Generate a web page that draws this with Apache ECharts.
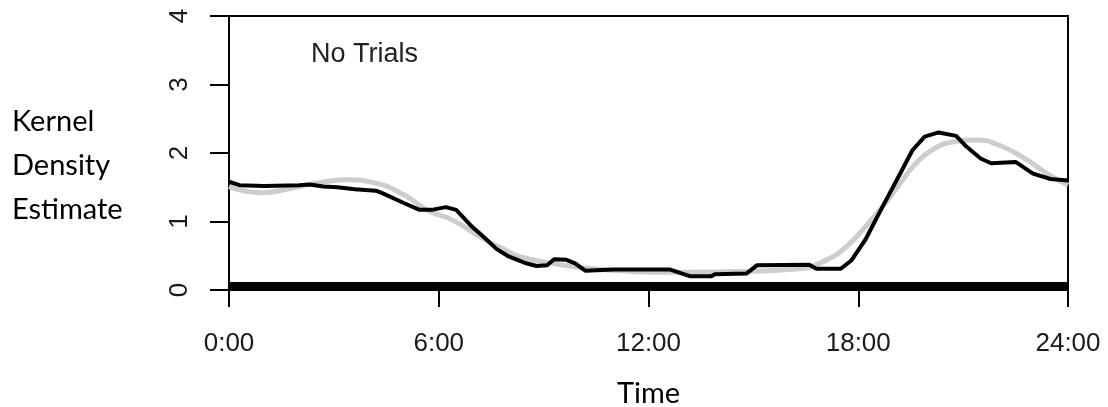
<!DOCTYPE html>
<html>
<head>
<meta charset="utf-8">
<script src="https://cdn.jsdelivr.net/npm/echarts@6/dist/echarts.min.js"></script>
<style>
html,body{margin:0;padding:0;background:#fff;}
#chart{width:1108px;height:407px;}
</style>
</head>
<body>
<div id="chart"></div>
<script>
// Hours of day for the observed (black) kernel density estimate
const observedHours = [0, 0.3, 1, 2, 2.3, 2.7, 3.1, 3.6, 4.2, 4.4, 5.0, 5.45, 5.8, 6.2, 6.5, 6.9, 7.27, 7.65, 8.0, 8.5, 8.8, 9.1, 9.3, 9.65, 9.9, 10.2, 11.0, 12.6, 13.2, 13.8, 13.9, 14.8, 15.1, 16.6, 16.8, 17.5, 17.8, 18.2, 18.7, 19.2, 19.55, 19.9, 20.3, 20.8, 21.1, 21.5, 21.8, 22.5, 23.0, 23.5, 24];
const observedDensity = [1.58, 1.53, 1.52, 1.53, 1.54, 1.51, 1.50, 1.47, 1.45, 1.41, 1.27, 1.17, 1.17, 1.21, 1.17, 0.95, 0.78, 0.60, 0.49, 0.39, 0.35, 0.36, 0.45, 0.44, 0.39, 0.28, 0.30, 0.30, 0.20, 0.20, 0.23, 0.24, 0.36, 0.37, 0.31, 0.31, 0.43, 0.73, 1.22, 1.70, 2.04, 2.24, 2.30, 2.25, 2.09, 1.92, 1.85, 1.87, 1.70, 1.62, 1.60];

// Hours of day for the smooth (grey) fitted curve
const fittedHours = [0, 0.9, 1.74, 2.5, 3.37, 4.2, 5.0, 5.7, 6.4, 7.27, 8.0, 8.3, 9.1, 10.2, 11.2, 12.1, 13.1, 14.6, 16.3, 17.1, 17.65, 18.2, 18.7, 19.2, 19.65, 20.1, 20.7, 21.4, 22.0, 22.7, 23.4, 24];
const fittedDensity = [1.51, 1.42, 1.48, 1.56, 1.61, 1.56, 1.39, 1.16, 1.02, 0.75, 0.56, 0.49, 0.40, 0.32, 0.28, 0.26, 0.26, 0.27, 0.31, 0.44, 0.63, 0.92, 1.22, 1.56, 1.85, 2.04, 2.16, 2.19, 2.12, 1.94, 1.70, 1.53];

// Rug of observation times (dense enough to form a solid band)
const rugSpan = [0, 24];

const xTickLabels = ['0:00', '6:00', '12:00', '18:00', '24:00'];
const yTickLabels = ['0', '1', '2', '3', '4'];
const panelLabel = 'No Trials';
const xTitle = 'Time';
const yTitle = 'Kernel\nDensity\nEstimate';

const chart = echarts.init(document.getElementById('chart'), null, {renderer: 'canvas'});
const axisFont = '"Liberation Sans", Arial, sans-serif';
const textFont = 'Lato, "Open Sans", sans-serif';

chart.setOption({
  animation: false,
  backgroundColor: '#ffffff',
  grid: {
    left: 229, right: 40, top: 16, bottom: 117,
    containLabel: false, outerBoundsMode: 'none',
    show: true, borderColor: '#000', borderWidth: 2, backgroundColor: 'transparent'
  },
  xAxis: {
    type: 'value', min: 0, max: 24, interval: 6,
    axisLine: {show: true, lineStyle: {color: '#000', width: 2}},
    axisTick: {show: true, length: 17, lineStyle: {color: '#000', width: 2}},
    splitLine: {show: false},
    axisLabel: {
      margin: 41, color: '#1a1a1a', fontSize: 26, fontFamily: axisFont,
      formatter: v => xTickLabels[Math.round(v / 6)]
    },
    name: xTitle, nameLocation: 'middle', nameGap: 89,
    nameTextStyle: {color: '#000', fontSize: 29, fontFamily: textFont}
  },
  yAxis: {
    type: 'value', min: 0, max: 4, interval: 1,
    axisLine: {show: true, lineStyle: {color: '#000', width: 2}},
    axisTick: {show: true, length: 19, lineStyle: {color: '#000', width: 2}},
    splitLine: {show: false},
    axisLabel: {
      margin: 36, rotate: 90, color: '#1a1a1a', fontSize: 26, fontFamily: axisFont,
      formatter: v => yTickLabels[Math.round(v)]
    }
  },
  graphic: [
    {
      type: 'text', left: 12, top: 100,
      style: {text: yTitle, fill: '#000', font: '29px ' + textFont, lineHeight: 44}
    },
    {
      type: 'text', left: 311, top: 41,
      style: {text: panelLabel, fill: '#222', font: '27px ' + axisFont}
    }
  ],
  series: [
    {
      type: 'custom',
      data: [rugSpan],
      encode: {x: [0, 1]},
      renderItem: function (params, api) {
        const a = api.coord([api.value(0), 0]);
        const b = api.coord([api.value(1), 0]);
        return {type: 'rect', shape: {x: a[0], y: a[1] - 8, width: b[0] - a[0], height: 8}, style: {fill: '#000'}};
      },
      z: 3
    },
    {
      type: 'line',
      data: fittedHours.map((h, i) => [h, fittedDensity[i]]),
      smooth: true, showSymbol: false,
      lineStyle: {color: '#cdcdcd', width: 5},
      z: 4
    },
    {
      type: 'line',
      data: observedHours.map((h, i) => [h, observedDensity[i]]),
      smooth: false, showSymbol: false,
      lineStyle: {color: '#000', width: 4},
      z: 5
    }
  ]
});
</script>
</body>
</html>
